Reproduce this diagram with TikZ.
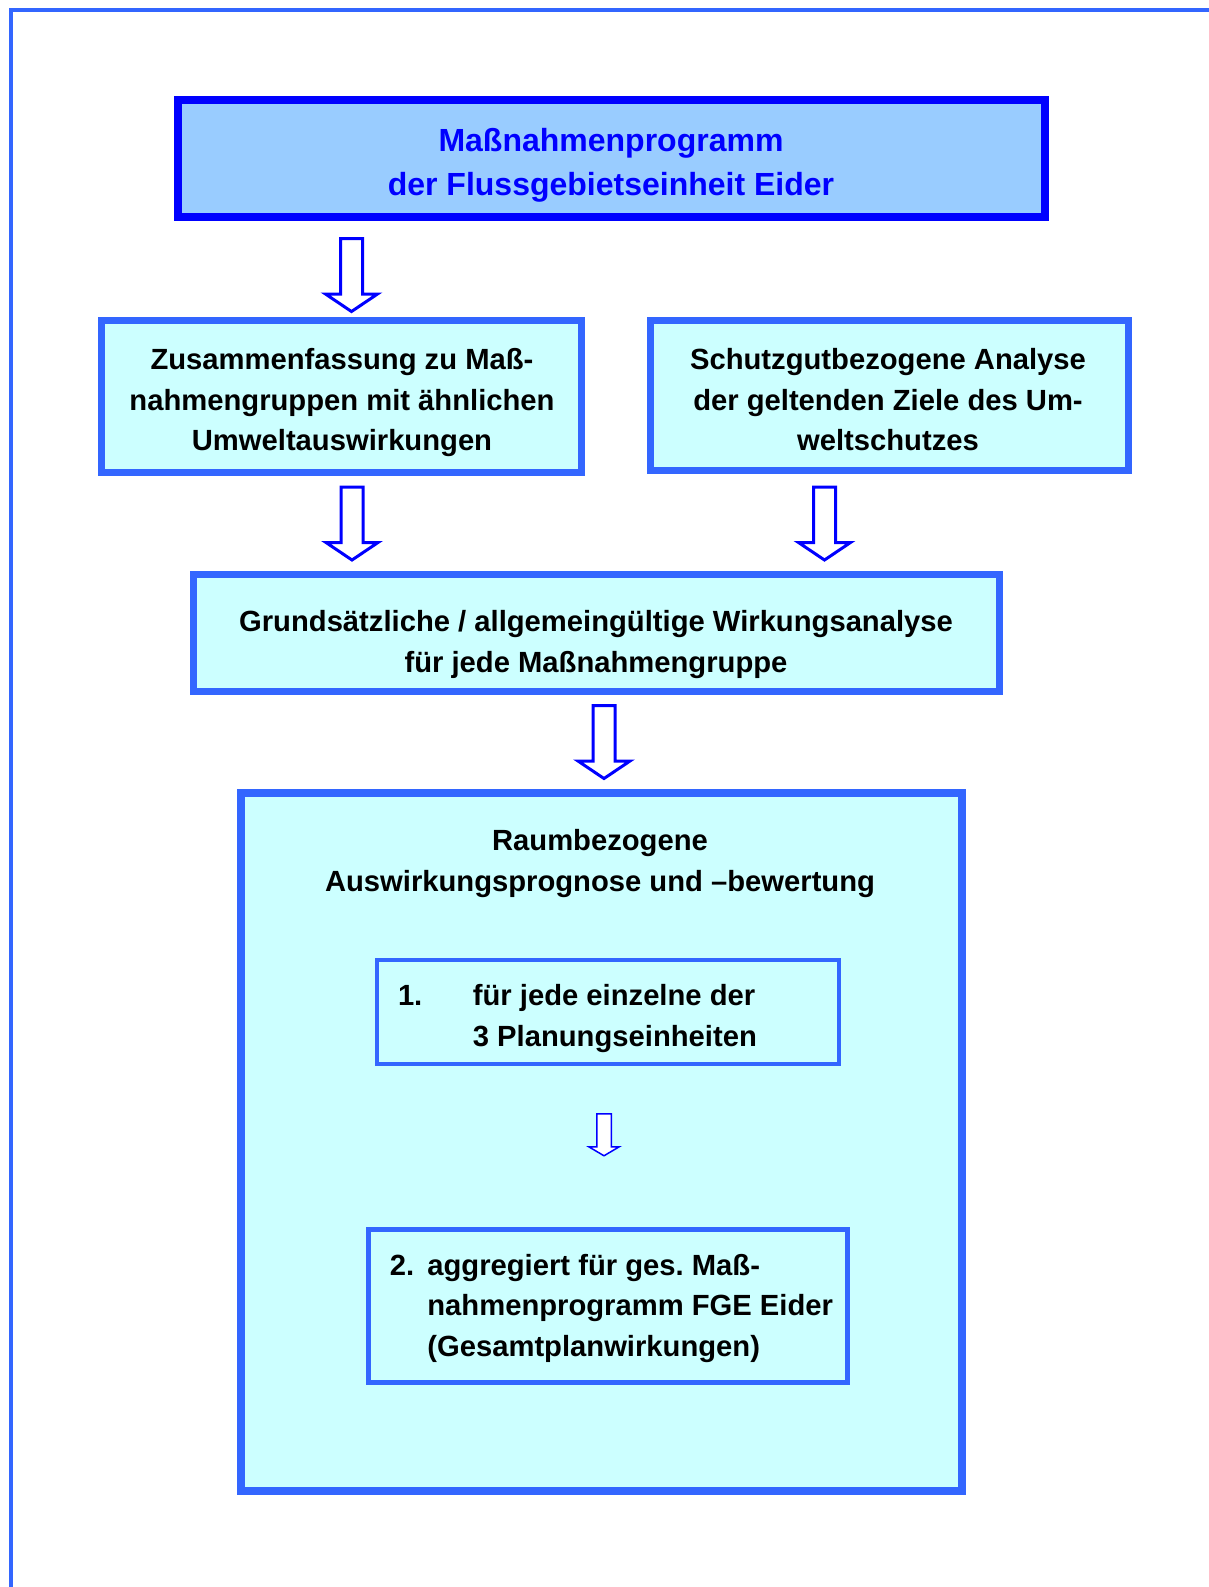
\documentclass[tikz,border=0pt]{standalone}
\usepackage{fontspec}
\setmainfont{Liberation Sans}
\frenchspacing
\definecolor{frameblue}{RGB}{51,102,255}
\definecolor{pureblue}{RGB}{0,0,255}
\definecolor{topfill}{RGB}{153,204,255}
\definecolor{boxfill}{RGB}{204,255,255}
\begin{document}
\begin{tikzpicture}[x=0.5pt,y=-0.5pt,
  box/.style={rectangle, draw=frameblue, fill=boxfill, line width=3.5pt, inner sep=0pt},
  topbox/.style={rectangle, draw=pureblue, fill=topfill, line width=4pt, inner sep=0pt},
  bodytext/.style={inner sep=0pt, align=center, font=\fontsize{14.6pt}{20.3pt}\selectfont\bfseries\frenchspacing},
  toptext/.style={inner sep=0pt, align=center, text=pureblue, font=\fontsize{16pt}{22.2pt}\selectfont\bfseries},
  arrline/.style={draw=pureblue, fill=white, line join=miter},
  bigarr/.pic={\draw[arrline, line width=1.5pt] (-11,0) -- (11,0) -- (11,55.5) -- (26,55.5) -- (0,73) -- (-26,55.5) -- (-11,55.5) -- cycle;},
  smallarr/.pic={\draw[arrline, line width=0.75pt] (-7.25,0) -- (7.25,0) -- (7.25,33) -- (15.25,33) -- (0,42) -- (-15.25,33) -- (-7.25,33) -- cycle;}
]
\fill[white] (0,0) rectangle (1209,1587);
\useasboundingbox (0,0) rectangle (1209,1587);
% outer frame (top and left only)
\coordinate (frameTR) at (1209,10);
\coordinate (frameC) at (11,10);
\coordinate (frameBL) at (11,1587);
\draw[frameblue, line width=2pt, line join=miter] (frameTR) -- (frameC) -- (frameBL);

% boxes
\node[topbox, minimum width=433.5pt, minimum height=58.35pt] (b1) at (611.5,158.3) {};
\node[box, minimum width=240pt, minimum height=75.75pt] (b2) at (341.5,396.25) {};
\node[box, minimum width=239.25pt, minimum height=75pt] (b3) at (889.25,395.5) {};
\node[box, minimum width=403pt, minimum height=58.5pt] (b4) at (596.5,633) {};
\node[box, line width=4pt, minimum width=360.5pt, minimum height=348.85pt] (b5) at (601.2,1142.15) {};
\node[box, line width=2pt, minimum width=230.85pt, minimum height=51.85pt] (b6) at (608.15,1011.85) {};
\node[box, line width=2.6pt, minimum width=239.5pt, minimum height=76.65pt] (b7) at (608,1305.85) {};

% texts
\node[toptext] (t1) at (611,165) {Maßnahmenprogramm\\der Flussgebietseinheit Eider};
\node[bodytext] (t2) at (342,402.6) {Zusammenfassung zu Maß-\\nahmengruppen mit ähnlichen\\Umweltauswirkungen};
\node[bodytext] (t3) at (888,399.8) {Schutzgutbezogene Analyse\\der geltenden Ziele des Um-\\weltschutzes};
\node[bodytext] (t4) at (596,644.5) {Grundsätzliche / allgemeingültige Wirkungsanalyse\\für jede Maßnahmengruppe};
\node[bodytext] (t5) at (600,863.5) {Raumbezogene\\Auswirkungsprognose und –bewertung};
\node[bodytext, anchor=west] (t6) at (397.6,1018) {\begin{tabular}{@{}l@{}l@{}}\makebox[37.45pt][l]{1.} & für jede einzelne der\\ & 3 Planungseinheiten\end{tabular}};
\node[bodytext, anchor=west] (t7) at (389.5,1307.5) {\begin{tabular}{@{}l@{}l@{}}\makebox[18.75pt][l]{2.} & aggregiert für ges. Maß-\\ & nahmenprogramm FGE Eider\\ & (Gesamtplanwirkungen)\end{tabular}};

% block arrows
\pic (a1) at (351.5,238.5) {bigarr};
\pic (a2) at (352,487) {bigarr};
\pic (a3) at (824.5,487) {bigarr};
\pic (a4) at (604,705.5) {bigarr};
\pic (a5) at (604,1113.75) {smallarr};
\end{tikzpicture}
\end{document}
